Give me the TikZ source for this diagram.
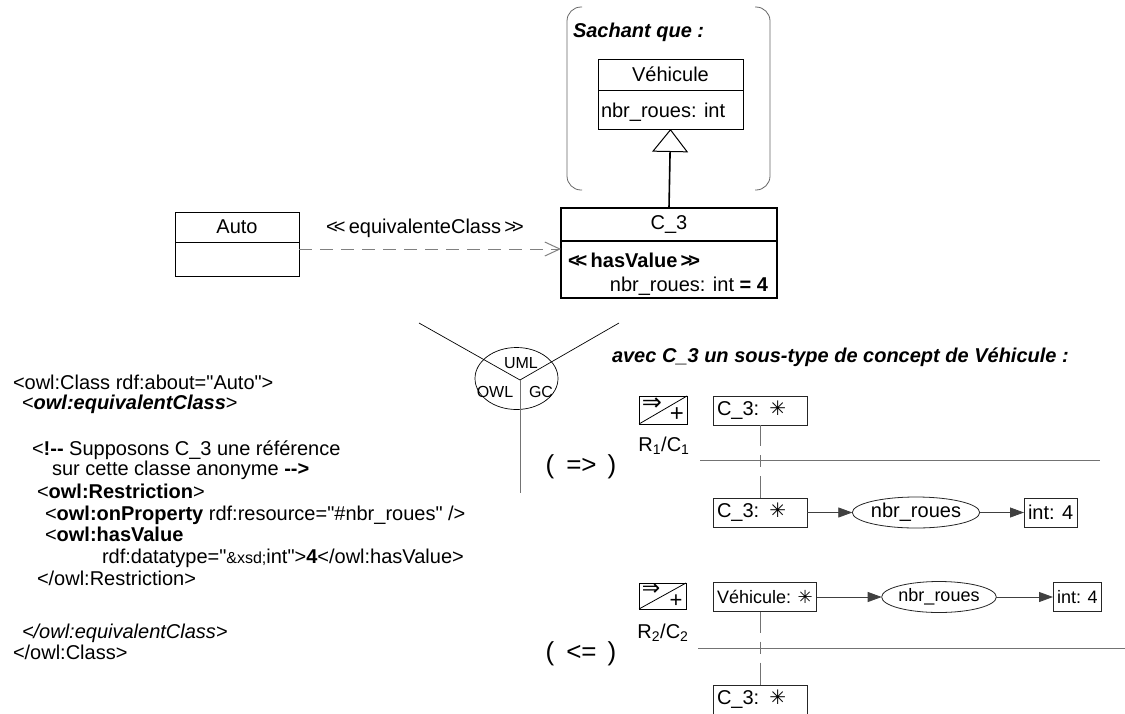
\documentclass[tikz,border=0pt]{standalone}
\usepackage{fontspec}
\setmainfont{Liberation Sans}[Ligatures=TeXOff]
\newfontfamily\dv{DejaVu Sans}
\usetikzlibrary{arrows.meta,shapes.geometric}
\newcommand\lguil{<\kern-0.2em<}
\newcommand\rguil{>\kern-0.2em>}
\newcommand\starsym{{\dv ✳}}
\begin{document}
\begin{tikzpicture}[x=1pt,y=-1pt,
  every node/.style={inner sep=0pt, outer sep=0pt},
  t20/.style={font=\fontsize{20}{22}\selectfont},
  t18/.style={font=\fontsize{18}{20}\selectfont},
  t15/.style={font=\fontsize{16}{17}\selectfont},
  code/.style={t20, anchor=base west},
  bit/.style={font=\fontsize{20}{22}\selectfont\bfseries\itshape},
  cls/.style={draw, line width=0.8pt, t20},
  gbox/.style={draw=black!85, line width=0.8pt, inner xsep=4pt, minimum height=29, align=left},
  elli/.style={draw=black!85, ellipse, line width=0.8pt, minimum height=31},
  arr/.style={draw=black!75, line width=0.8pt, -{Triangle[length=14pt,width=10pt]}},
  sep/.style={draw=black!55, line width=0.9pt},
  vdash/.style={draw=black!55, line width=0.9pt, dash pattern=on 21pt off 9pt on 12pt off 9pt on 40pt},
  bracket/.style={draw=black!60, line width=0.8pt, rounded corners=14pt},
  icon/.style={draw, line width=0.8pt},
  impl/.style={font=\fontsize{26}{28}\selectfont}
]
\useasboundingbox (0,0) rectangle (1125,713);

% --- Sachant que
\draw[bracket] (582,7) -- (567,7) -- (567,190) -- (582,190);
\draw[bracket] (755,7) -- (770,7) -- (770,190) -- (755,190);
\node[bit, anchor=base west] (sq) at (573,37) {Sachant que :};

\node[cls, minimum width=145, minimum height=31] (vehN) at (670.5,74.5) {Véhicule};
\node[cls, minimum width=145, minimum height=39, anchor=north] (vehA) at (vehN.south) {};
\node[t20, anchor=base west] (vehAt) at (601,117) {nbr\_roues: int};

% --- C_3
\node[cls, line width=1.6pt, minimum width=216, minimum height=33] (c3N) at (669,224.5) {C\_3};
\node[cls, line width=1.6pt, minimum width=216, minimum height=57, anchor=north] (c3A) at (c3N.south) {};
\node[t20, anchor=base west] (c3s) at (568,267) {\textbf{\lguil\,hasValue\,\rguil}};
\node[t20, anchor=base east] (c3t) at (768,291) {nbr\_roues: int \textbf{= 4}};

\draw[line width=1.6pt, -{Triangle[open, length=23pt, width=36pt, line width=1pt]}] (c3N.north) -- (vehA.south);

% --- Auto
\node[cls, minimum width=124, minimum height=30] (autoN) at (237,227) {Auto};
\node[cls, minimum width=124, minimum height=34, anchor=north] (autoA) at (autoN.south) {};

\draw[draw=black!50, line width=0.9pt, dash pattern=on 13pt off 8pt, -{Straight Barb[length=15pt,width=14pt,line width=1pt]}]
  ([yshift=-7pt]autoA.north east) -- ([yshift=-7pt]autoA.north east -| c3A.west);
\node[t20] (eqc) at (425,228) {\lguil\,equivalenteClass\,\rguil};

% --- Y figure
\coordinate (yc) at (520,380);
\coordinate (yul) at (419,323);
\coordinate (yur) at (619,323);
\coordinate (ydn) at (520,493);
\node[draw, ellipse, line width=0.7pt, minimum width=83, minimum height=62] (sem) at (516.5,378.5) {};
\draw[line width=0.7pt] (yc) -- (yul);
\draw[line width=0.7pt] (yc) -- (yur);
\draw[draw=black!55, line width=0.9pt] (yc) -- (ydn);
\node[t15] (uml) at (521,363) {UML};
\node[t15] (owl) at (495,392) {OWL};
\node[t15] (gc) at (541,392) {GC};

% --- OWL code
\node[code] (l1) at (13,389) {<owl:Class rdf:about="Auto">};
\node[code] (l2) at (22,409) {<\textbf{\textit{owl:equivalentClass}}>};
\node[code] (l3) at (32,455) {<\textbf{!--} Supposons C\_3 une référence};
\node[code] (l4) at (52,475) {sur cette classe anonyme \textbf{-->}};
\node[code] (l5) at (37,498) {<\textbf{owl:Restriction}>};
\node[code] (l6) at (45,520) {<\textbf{owl:onProperty} rdf:resource="\#nbr\_roues" />};
\node[code] (l7) at (45,541) {<\textbf{owl:hasValue}};
\node[code] (l8) at (102,563) {rdf:datatype="{\fontsize{16}{18}\selectfont\&xsd;}int">\textbf{4}</owl:hasValue>};
\node[code] (l9) at (37,585) {</owl:Restriction>};
\node[code] (l10) at (22,638) {\textit{</owl:equivalentClass>}};
\node[code] (l11) at (13,659) {</owl:Class>};

% --- avec ...
\node[bit, anchor=base west] (avec) at (612,362) {avec C\_3 un sous-type de concept de Véhicule :};

% --- rule 1
\node[icon, minimum width=48, minimum height=28] (ic1) at (663,410) {};
\draw[line width=0.8pt] (ic1.south west) -- (ic1.north east);
\node[font=\dv\fontsize{24}{24}\selectfont] (ic1a) at ([xshift=13pt,yshift=-8pt]ic1.north west) {⇒};
\node[font=\fontsize{24}{24}\selectfont] (ic1b) at ([xshift=-10pt,yshift=9pt]ic1.south east) {+};
\node[t20] (rc1) at (664,446) {R\textsubscript{1}/C\textsubscript{1}};
\node[impl] (imp1) at (581,467) {(\hspace{12pt}=>\hspace{11pt})};

\node[gbox, t20, text width=86, anchor=west] (r1a) at (713,410.5) {C\_3: \starsym};
\coordinate (h1l) at (700,460);
\coordinate (h1r) at (1100,460);
\draw[sep] (h1l) -- (h1r);
\node[gbox, t20, text width=86, anchor=west] (r1b) at (713,512.5) {C\_3: \starsym};
\draw[vdash] (r1a.south) -- (r1b.north);
\node[elli, t20, minimum width=116] (e1) at (916,512.5) {nbr\_roues};
\node[gbox, t20, anchor=west] (int1) at (1024,512.5) {int: 4};
\draw[arr] (r1b) -- (e1);
\draw[arr] (e1) -- (int1);

% --- rule 2
\node[icon, minimum width=47, minimum height=26] (ic2) at (662.5,596) {};
\draw[line width=0.8pt] (ic2.south west) -- (ic2.north east);
\node[font=\dv\fontsize{22}{22}\selectfont] (ic2a) at ([xshift=12pt,yshift=-7pt]ic2.north west) {⇒};
\node[font=\fontsize{22}{22}\selectfont] (ic2b) at ([xshift=-10pt,yshift=8pt]ic2.south east) {+};
\node[t20] (rc2) at (663,633) {R\textsubscript{2}/C\textsubscript{2}};
\node[impl] (imp2) at (581,654) {(\hspace{12pt}<=\hspace{11pt})};

\node[gbox, t18, anchor=west] (v2) at (713,597) {Véhicule: \starsym};
\node[elli, t18, minimum width=108] (e2) at (939,597) {nbr\_roues};
\node[gbox, t18, anchor=west] (int2) at (1053,597) {int: 4};
\draw[arr] (v2) -- (e2);
\draw[arr] (e2) -- (int2);
\coordinate (h2l) at (698,648);
\coordinate (h2r) at (1125,648);
\draw[sep] (h2l) -- (h2r);
\node[gbox, t20, text width=86, anchor=north west] (c3d) at (713,685) {C\_3: \starsym};
\draw[vdash] (c3d.north |- v2.south) -- (c3d.north);
\end{tikzpicture}
\end{document}
